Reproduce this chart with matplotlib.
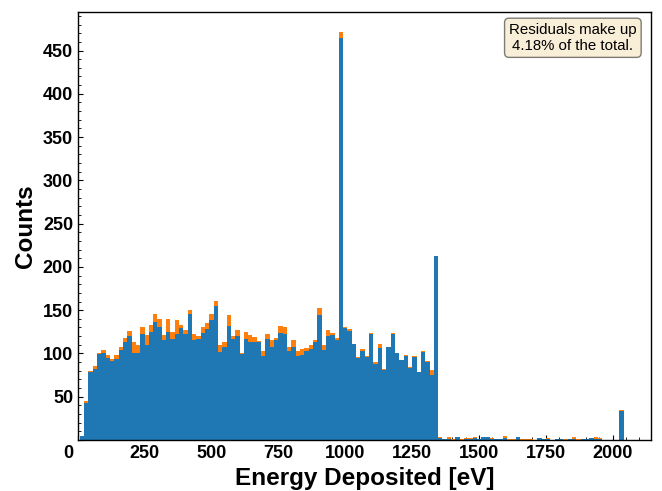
import numpy as np
import matplotlib
matplotlib.use('Agg')
import matplotlib.pyplot as plt
from matplotlib.ticker import MultipleLocator, FuncFormatter
from matplotlib.transforms import ScaledTranslation

plt.rcParams['font.family'] = ['Liberation Sans', 'DejaVu Sans']

# histogram binning (126 equal bins between lowest and highest deposit)
e_min = 6.7
e_max = 2041.6
n_bins = 126

# counts per bin, main component (blue)
blue_counts = [
    5, 43, 79, 82, 99, 101, 95, 91, 94, 104,
    113, 120, 101, 101, 123, 110, 125, 136, 130, 116,
    125, 117, 123, 129, 123, 145, 115, 117, 124, 128,
    139, 155, 102, 108, 132, 117, 120, 99, 117, 113,
    113, 113, 97, 117, 107, 115, 124, 122, 103, 108,
    97, 98, 103, 105, 113, 144, 104, 120, 121, 116,
    465, 129, 126, 111, 95, 103, 96, 123, 88, 106,
    81, 107, 122, 100, 92, 97, 83, 96, 78, 102,
    90, 75, 213, 2, 1, 1, 0, 4, 0, 1,
    1, 2, 1, 3, 4, 1, 1, 1, 2, 0,
    0, 3, 0, 0, 0, 0, 2, 1, 1, 0,
    1, 1, 0, 1, 1, 0, 1, 1, 2, 1,
    1, 0, 0, 0, 0, 34,
]

# counts per bin, residuals (orange, stacked on top)
resid_counts = [
    0, 2, 1, 3, 2, 3, 3, 3, 4, 3,
    5, 6, 12, 9, 8, 11, 8, 10, 10, 5,
    15, 8, 16, 4, 4, 5, 7, 3, 6, 7,
    7, 6, 8, 5, 12, 3, 7, 1, 8, 8,
    6, 1, 6, 5, 8, 3, 8, 8, 5, 7,
    6, 7, 3, 5, 2, 8, 6, 7, 3, 2,
    6, 1, 2, 0, 1, 2, 1, 1, 2, 5,
    1, 1, 2, 1, 0, 1, 1, 1, 1, 1,
    1, 6, 0, 1, 0, 2, 1, 0, 1, 1,
    1, 2, 0, 0, 0, 1, 0, 0, 3, 1,
    1, 0, 1, 1, 1, 0, 0, 0, 1, 0,
    0, 0, 1, 0, 2, 1, 0, 0, 0, 2,
    1, 0, 0, 0, 0, 1,
]

x_ticks = [0, 250, 500, 750, 1000, 1250, 1500, 1750, 2000]
resid_text = 'Residuals make up\n4.18% of the total.'

edges = np.linspace(e_min, e_max, n_bins + 1)
centers = 0.5 * (edges[:-1] + edges[1:])

fig = plt.figure(figsize=(6.62, 4.91), dpi=100)
ax = fig.add_subplot(111)
fig.subplots_adjust(left=0.1178, right=0.9834, top=0.9756, bottom=0.1039)

ax.hist([centers, centers], bins=edges, weights=[blue_counts, resid_counts],
        stacked=True, color=['#1f77b4', '#ff7f0e'])
ax.set_xlim(left=0)
ax.set_axisbelow(True)

ax.set_xticks(x_ticks)
ax.xaxis.set_minor_locator(MultipleLocator(50))
ax.yaxis.set_major_locator(MultipleLocator(50))
ax.yaxis.set_minor_locator(MultipleLocator(10))
ax.yaxis.set_major_formatter(FuncFormatter(lambda v, p: '' if v == 0 else '%d' % v))
ax.tick_params(which='both', direction='in', top=False, right=False)
ax.tick_params(labelsize=13)
for lbl in ax.get_xticklabels() + ax.get_yticklabels():
    lbl.set_fontweight('bold')
for sp in ax.spines.values():
    sp.set_linewidth(1.0)

ax.set_xlabel('Energy Deposited [eV]', fontsize=17.5, fontweight='bold')
ax.set_ylabel('Counts', fontsize=17.5, fontweight='bold')

ax.text(0.975, 0.975, resid_text, transform=ax.transAxes, fontsize=10.8,
        ha='right', va='top', multialignment='center',
        bbox=dict(boxstyle='round', facecolor='wheat', alpha=0.5))

# the zero label sits a little left of the axis corner
zero_tick = ax.xaxis.get_major_ticks()[0]
zero_tick.label1.set_transform(zero_tick.label1.get_transform() +
                               ScaledTranslation(-0.10, 0, fig.dpi_scale_trans))

fig.savefig('out.png', dpi=100)
